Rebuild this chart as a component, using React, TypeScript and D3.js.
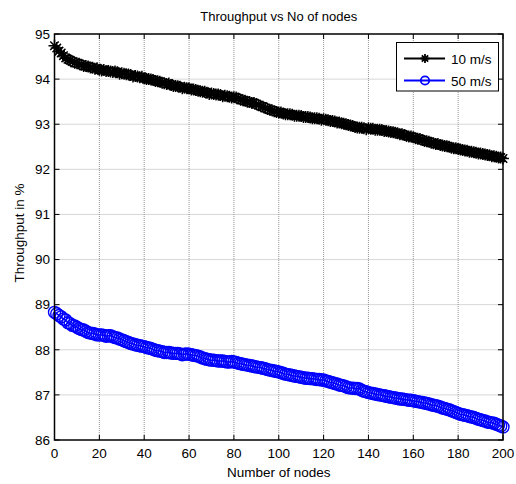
import React from "react";
import * as d3 from "d3";

const nodes: number[] = d3.range(0, 201, 1);

const speed10: number[] = [
  94.74, 94.69, 94.62, 94.58, 94.52, 94.47, 94.44, 94.42, 94.39, 94.36,
  94.35, 94.34, 94.32, 94.29, 94.29, 94.28, 94.26, 94.25, 94.23, 94.24,
  94.21, 94.19, 94.2, 94.18, 94.18, 94.17, 94.16, 94.17, 94.15, 94.12,
  94.13, 94.12, 94.11, 94.1, 94.09, 94.06, 94.07, 94.06, 94.04, 94.05,
  94.02, 94.0, 94.0, 93.99, 93.98, 93.96, 93.95, 93.94, 93.92, 93.91,
  93.89, 93.9, 93.87, 93.85, 93.85, 93.84, 93.83, 93.8, 93.81, 93.8,
  93.8, 93.77, 93.77, 93.76, 93.74, 93.73, 93.72, 93.72, 93.7, 93.67,
  93.68, 93.67, 93.66, 93.66, 93.65, 93.62, 93.63, 93.62, 93.61, 93.59,
  93.6, 93.59, 93.57, 93.54, 93.53, 93.52, 93.5, 93.49, 93.47, 93.47,
  93.45, 93.42, 93.4, 93.39, 93.36, 93.34, 93.32, 93.31, 93.29, 93.27,
  93.26, 93.26, 93.24, 93.22, 93.22, 93.22, 93.21, 93.19, 93.19, 93.19,
  93.18, 93.16, 93.16, 93.16, 93.15, 93.13, 93.13, 93.13, 93.12, 93.1,
  93.11, 93.1, 93.09, 93.07, 93.07, 93.06, 93.04, 93.04, 93.02, 93.01,
  93.0, 92.98, 92.97, 92.96, 92.94, 92.93, 92.92, 92.92, 92.91, 92.89,
  92.91, 92.9, 92.9, 92.88, 92.88, 92.88, 92.87, 92.85, 92.85, 92.84,
  92.83, 92.82, 92.81, 92.8, 92.78, 92.78, 92.76, 92.74, 92.73, 92.73,
  92.71, 92.69, 92.68, 92.67, 92.65, 92.63, 92.62, 92.61, 92.59, 92.58,
  92.56, 92.56, 92.54, 92.53, 92.52, 92.51, 92.5, 92.48, 92.47, 92.47,
  92.45, 92.44, 92.43, 92.42, 92.41, 92.39, 92.39, 92.38, 92.37, 92.35,
  92.35, 92.34, 92.33, 92.32, 92.31, 92.29, 92.29, 92.28, 92.26, 92.26,
  92.24,
];

const speed50: number[] = [
  88.83, 88.8, 88.76, 88.73, 88.68, 88.66, 88.6, 88.58, 88.54, 88.53,
  88.5, 88.47, 88.45, 88.44, 88.41, 88.38, 88.37, 88.36, 88.35, 88.33,
  88.33, 88.33, 88.32, 88.3, 88.31, 88.31, 88.29, 88.27, 88.26, 88.24,
  88.22, 88.2, 88.18, 88.16, 88.14, 88.13, 88.11, 88.1, 88.09, 88.08,
  88.07, 88.05, 88.04, 88.03, 88.01, 87.99, 87.98, 87.97, 87.96, 87.94,
  87.94, 87.94, 87.93, 87.92, 87.92, 87.92, 87.91, 87.89, 87.9, 87.91,
  87.9, 87.89, 87.88, 87.87, 87.86, 87.84, 87.82, 87.8, 87.79, 87.78,
  87.77, 87.77, 87.76, 87.75, 87.75, 87.75, 87.74, 87.73, 87.73, 87.74,
  87.73, 87.72, 87.7, 87.69, 87.68, 87.67, 87.66, 87.65, 87.64, 87.63,
  87.62, 87.61, 87.6, 87.59, 87.58, 87.56, 87.55, 87.54, 87.53, 87.52,
  87.51, 87.49, 87.48, 87.46, 87.45, 87.44, 87.43, 87.42, 87.41, 87.4,
  87.39, 87.38, 87.37, 87.37, 87.36, 87.36, 87.35, 87.34, 87.34, 87.33,
  87.33, 87.31, 87.3, 87.28, 87.27, 87.25, 87.24, 87.22, 87.21, 87.2,
  87.18, 87.16, 87.15, 87.15, 87.14, 87.14, 87.13, 87.1, 87.08, 87.07,
  87.05, 87.04, 87.03, 87.02, 87.01, 87.0, 86.99, 86.98, 86.97, 86.96,
  86.95, 86.94, 86.93, 86.92, 86.91, 86.91, 86.9, 86.89, 86.88, 86.88,
  86.87, 86.86, 86.85, 86.84, 86.83, 86.82, 86.81, 86.8, 86.78, 86.77,
  86.76, 86.75, 86.73, 86.71, 86.7, 86.68, 86.67, 86.65, 86.63, 86.61,
  86.59, 86.57, 86.56, 86.55, 86.54, 86.52, 86.51, 86.5, 86.48, 86.46,
  86.45, 86.43, 86.42, 86.4, 86.39, 86.38, 86.37, 86.35, 86.33, 86.31,
  86.29,
];

const xTicks: number[] = d3.range(0, 201, 20);
const yTicks: number[] = d3.range(86, 96, 1);
const seriesNames: string[] = ["10 m/s", "50 m/s"];
const seriesColors: string[] = ["#000000", "#0000ff"];

const W = 516;
const H = 484;
const L = 54.5;
const R = 503;
const T = 34;
const B = 440;
const FONT = "'Liberation Sans', Arial, sans-serif";

function starPath(x: number, y: number, s: number): string {
  const d = s * 0.707;
  return `M${x - s},${y}L${x + s},${y}M${x},${y - s}L${x},${y + s}M${x - d},${y - d}L${x + d},${y + d}M${x - d},${y + d}L${x + d},${y - d}`;
}

export default function App() {
  const x = d3.scaleLinear().domain([0, 200]).range([L, R]);
  const y = d3.scaleLinear().domain([86, 95]).range([B, T]);
  const line = d3
    .line<number>()
    .x((_, i) => x(nodes[i]))
    .y((d) => y(d));

  const tickLen = 5;

  return (
    <div style={{ position: "fixed", left: 0, top: 0 }}>
      <svg width={W} height={H} style={{ display: "block", background: "#fff" }} fontFamily={FONT}>
        <rect x={0} y={0} width={W} height={H} fill="#fff" />
        {/* grid */}
        {xTicks.slice(1, -1).map((t) => (
          <line key={"gx" + t} x1={x(t)} x2={x(t)} y1={T} y2={B} stroke="#777" strokeWidth={0.8} strokeDasharray="1 1" />
        ))}
        {yTicks.slice(1, -1).map((t) => (
          <line key={"gy" + t} x1={L} x2={R} y1={y(t)} y2={y(t)} stroke="#999" strokeWidth={0.8} strokeDasharray="1 1" />
        ))}
        {/* ticks */}
        {xTicks.map((t) => (
          <g key={"tx" + t}>
            <line x1={x(t)} x2={x(t)} y1={B} y2={B - tickLen} stroke="#000" />
            <line x1={x(t)} x2={x(t)} y1={T} y2={T + tickLen} stroke="#000" />
            <text x={x(t)} y={458} textAnchor="middle" fontSize={13.5}>{t}</text>
          </g>
        ))}
        {yTicks.map((t) => (
          <g key={"ty" + t}>
            <line x1={L} x2={L + tickLen} y1={y(t)} y2={y(t)} stroke="#000" />
            <line x1={R} x2={R - tickLen} y1={y(t)} y2={y(t)} stroke="#000" />
            <text x={50} y={y(t) + 4.8} textAnchor="end" fontSize={13.5}>{t}</text>
          </g>
        ))}
        {/* series 10 m/s */}
        <path d={line(speed10) || ""} fill="none" stroke={seriesColors[0]} strokeWidth={1.5} />
        <path
          d={speed10.map((v, i) => starPath(x(nodes[i]), y(v), 6)).join("")}
          fill="none"
          stroke={seriesColors[0]}
          strokeWidth={1.5}
        />
        {/* series 50 m/s */}
        <path d={line(speed50) || ""} fill="none" stroke={seriesColors[1]} strokeWidth={1.5} />
        {speed50.map((v, i) => (
          <circle key={"c" + i} cx={x(nodes[i])} cy={y(v)} r={6} fill="none" stroke={seriesColors[1]} strokeWidth={1.4} />
        ))}
        {/* box */}
        <rect x={L} y={T} width={R - L} height={B - T} fill="none" stroke="#000" strokeWidth={1.5} />
        {/* title and labels */}
        <text x={(L + R) / 2} y={20.5} textAnchor="middle" fontSize={13}>Throughput vs No of nodes</text>
        <text x={(L + R) / 2} y={477} textAnchor="middle" fontSize={13.5}>Number of nodes</text>
        <text transform={`translate(24,${(T + B) / 2 - 4}) rotate(-90)`} textAnchor="middle" fontSize={13.5}>Throughput in %</text>
        {/* legend */}
        <rect x={396.5} y={42.5} width={102} height={48.5} fill="#fff" stroke="#000" strokeWidth={1} />
        {seriesNames.map((name, i) => {
          const ly = 58.5 + i * 22;
          return (
            <g key={name}>
              <line x1={404} x2={445} y1={ly} y2={ly} stroke={seriesColors[i]} strokeWidth={2} />
              {i === 0 ? (
                <path d={starPath(425, ly, 4.5)} stroke={seriesColors[i]} strokeWidth={1.8} fill="none" />
              ) : (
                <circle cx={425} cy={ly} r={4.2} fill="none" stroke={seriesColors[i]} strokeWidth={1.8} />
              )}
              <text x={451} y={ly + 5} fontSize={13.5}>{name}</text>
            </g>
          );
        })}
      </svg>
    </div>
  );
}
